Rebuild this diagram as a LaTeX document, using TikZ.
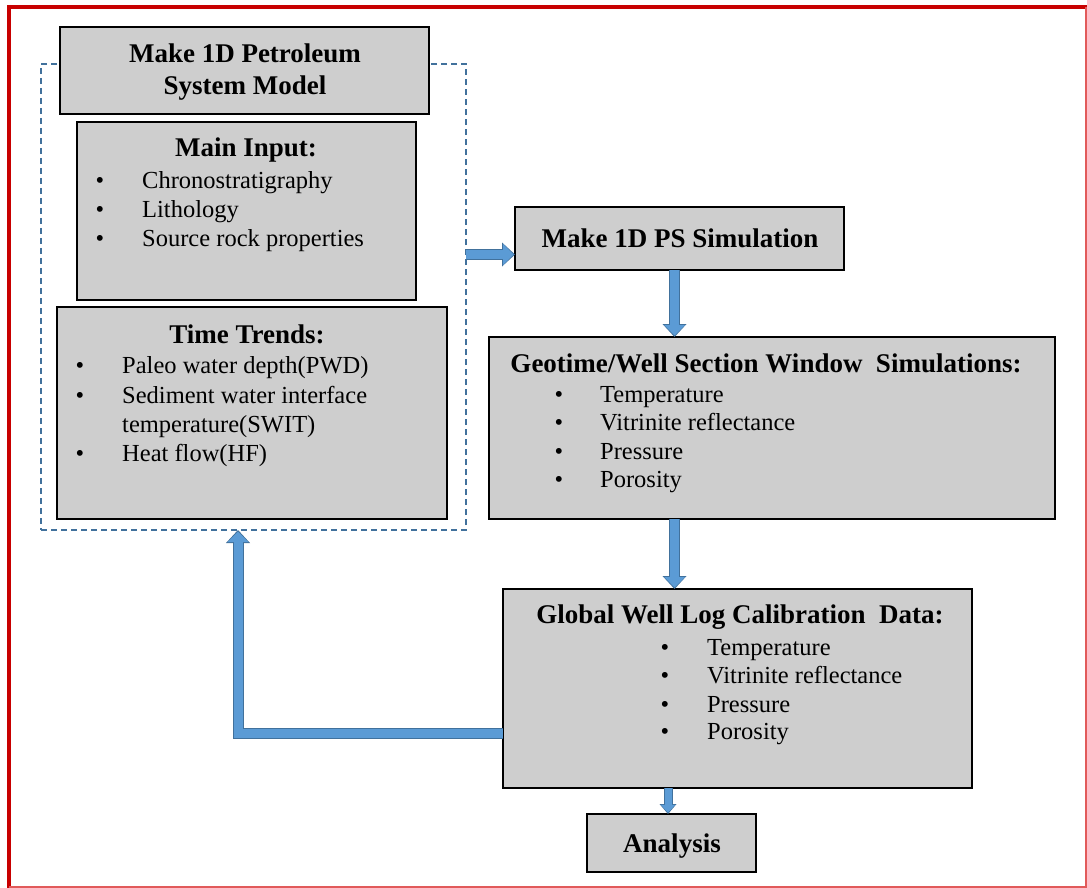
\documentclass[tikz,border=0pt]{standalone}
\usepackage{fontspec}
\setmainfont{Liberation Serif}
\usetikzlibrary{arrows.meta,calc}
\definecolor{boxfill}{RGB}{206,206,206}
\definecolor{flowblue}{RGB}{91,155,213}
\definecolor{frameblue}{RGB}{65,113,156}
\definecolor{redframe}{RGB}{200,0,0}
\definecolor{redthin}{RGB}{225,90,90}

\begin{document}
\begin{tikzpicture}[x=1pt,y=-1pt,
  stagebox/.style={draw=black, line width=2.4pt, fill=boxfill, anchor=north west,
    inner sep=0pt, outer sep=0pt},
  groupframe/.style={draw=frameblue, line width=1.6pt, dash pattern=on 6pt off 4pt,
    anchor=north west, inner sep=0pt, outer sep=0pt},
  ttl/.style={font=\fontsize{27}{30}\selectfont\bfseries, anchor=base, inner sep=0pt},
  itm/.style={font=\fontsize{24.5}{28}\selectfont, anchor=base west, inner sep=0pt},
  bul/.style={font=\fontsize{24.5}{28}\selectfont, anchor=base, inner sep=0pt},
  % block arrows: a darker, slightly larger copy underneath gives the outline
  bigflow/.style={draw=flowblue, line width=9pt, line join=miter, shorten >=1.5pt,
    preaction={draw=frameblue, line width=11pt, line join=miter, shorten >=0pt,
      -{Triangle[width=24pt,length=13pt,line width=0pt]}},
    -{Triangle[width=21pt,length=10.5pt,line width=0pt]}},
  smallflow/.style={draw=flowblue, line width=7pt, shorten >=1.2pt,
    preaction={draw=frameblue, line width=9pt, shorten >=0pt,
      -{Triangle[width=17pt,length=10pt,line width=0pt]}},
    -{Triangle[width=14.5pt,length=8pt,line width=0pt]}}
]
\useasboundingbox (0,0) rectangle (1087,888);
\fill[white] (0,0) rectangle (1087,888);

% dashed group around the model inputs
\node[groupframe, minimum width=425pt, minimum height=466pt] (frame) at (41,64) {};

% boxes
\node[stagebox, minimum width=369pt, minimum height=87pt]  (model) at (60,27) {};
\node[stagebox, minimum width=339pt, minimum height=178pt] (input) at (77,122) {};
\node[stagebox, minimum width=390pt, minimum height=212pt] (trends) at (57,307) {};
\node[stagebox, minimum width=329pt, minimum height=63pt]  (sim) at (515,207) {};
\node[stagebox, minimum width=566pt, minimum height=182pt] (geo) at (489,337) {};
\node[stagebox, minimum width=469pt, minimum height=199pt] (calib) at (503,589) {};
\node[stagebox, minimum width=169pt, minimum height=58pt]  (analysis) at (587,814) {};

% titles
\node[ttl] (model-t1) at (245,63) {Make 1D Petroleum};
\node[ttl] (model-t2) at (245,95) {System Model};
\node[ttl] (input-t) at (246,157) {Main Input:};
\node[ttl] (trends-t) at (247,343) {Time Trends:};
\node[ttl] (sim-t) at (680,247) {Make 1D PS Simulation};
\node[ttl] (geo-t) at (766,372) {Geotime/Well Section Window\ \ Simulations:};
\node[ttl] (calib-t) at (740,623) {Global Well Log Calibration\ \ Data:};
\node[ttl] (analysis-t) at (672,852) {Analysis};

% main input list
\foreach \txt [count=\i] in {Chronostratigraphy, Lithology, Source rock properties} {
  \node[bul] (input-b\i) at (100,159+29*\i) {\textbullet};
  \node[itm] (input-i\i) at (142,159+29*\i) {\txt};
}

% time trends list
\node[bul] (trends-b1) at (80,373) {\textbullet};
\node[itm] (trends-i1) at (122,373) {Paleo water depth(PWD)};
\node[bul] (trends-b2) at (80,403) {\textbullet};
\node[itm] (trends-i2) at (122,403) {Sediment water interface};
\node[itm] (trends-i3) at (122,432) {temperature(SWIT)};
\node[bul] (trends-b4) at (80,461) {\textbullet};
\node[itm] (trends-i4) at (122,461) {Heat flow(HF)};

% simulation outputs
\foreach \txt/\yy [count=\i] in {Temperature/402, Vitrinite reflectance/430, Pressure/459, Porosity/487} {
  \node[bul] (geo-b\i) at (559,\yy) {\textbullet};
  \node[itm] (geo-i\i) at (600,\yy) {\txt};
}

% calibration data
\foreach \txt/\yy [count=\i] in {Temperature/655, Vitrinite reflectance/683, Pressure/712, Porosity/739} {
  \node[bul] (calib-b\i) at (665,\yy) {\textbullet};
  \node[itm] (calib-i\i) at (707,\yy) {\txt};
}

% connectors
\coordinate (simin) at ([yshift=-16pt]sim.west);
\draw[bigflow] (frame.east |- simin) -- (simin);
\draw[bigflow] ([xshift=-5pt]sim.south) -- ([xshift=-5pt]sim.south |- geo.north);
\draw[bigflow] ([xshift=-5pt]sim.south |- geo.south) -- ([xshift=-5pt]sim.south |- calib.north);
\draw[smallflow] ([xshift=-3.5pt]analysis.north |- calib.south) -- ([xshift=-3.5pt]analysis.north);
\draw[bigflow] ([yshift=-45pt]calib.west) -| ([xshift=-15.5pt]frame.south);

% page frame
\draw[redframe, line width=4pt] (7,7) -- (1087,7);
\draw[redframe, line width=4pt] (9,5) -- (9,888);
\draw[redthin, line width=1.5pt] (1086,7) -- (1086,887) -- (9,887);
\end{tikzpicture}
\end{document}
